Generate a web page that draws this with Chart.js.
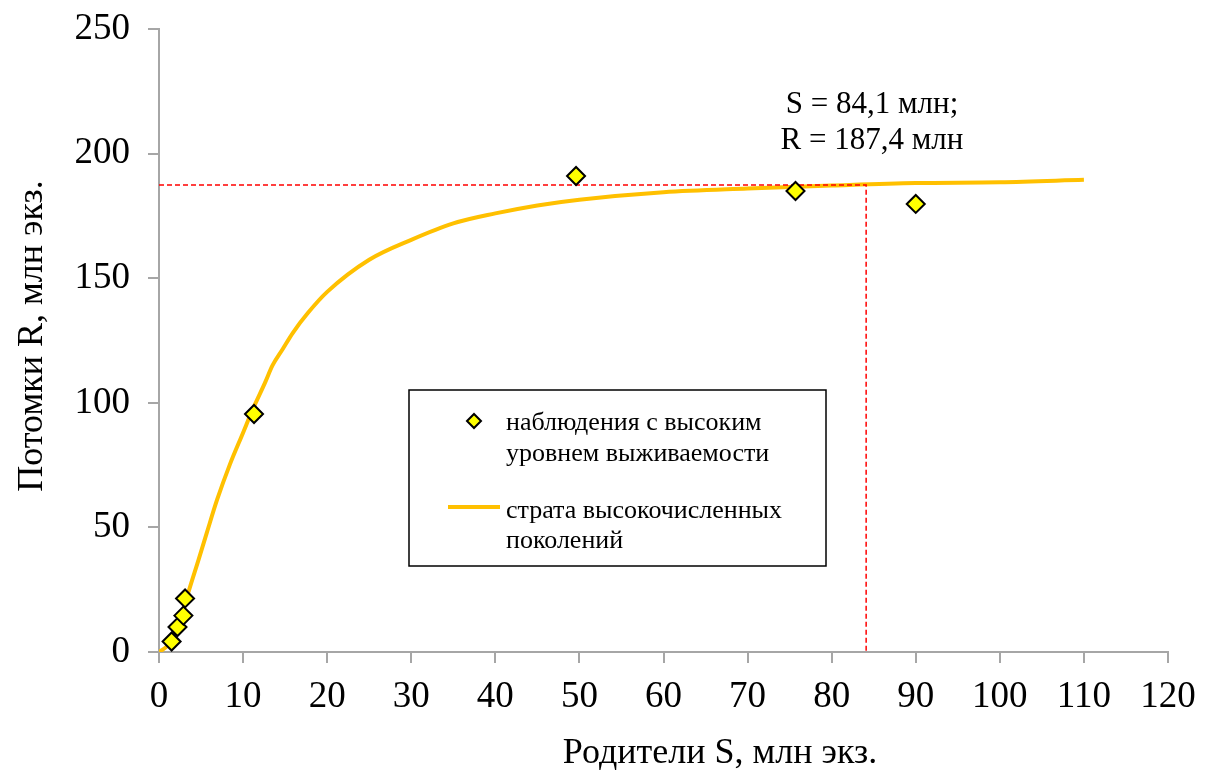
<!DOCTYPE html>
<html>
<head>
<meta charset="utf-8">
<script src="https://cdn.jsdelivr.net/npm/chart.js@4.4.1/dist/chart.umd.min.js"></script>
<style>
  html, body { margin: 0; padding: 0; background: #fff; }
  #wrap { width: 1206px; height: 773px; }
</style>
</head>
<body>
<div id="wrap"><canvas id="srChart" width="1206" height="773"></canvas></div>
<script>
// observations (parents S, recruits R), mln
const obsS = [1.5, 2.2, 2.9, 3.1, 11.3, 49.6, 75.7, 90.0];
const obsR = [4.2, 10.0, 14.6, 21.5, 95.5, 191.0, 185.0, 179.8];

// fitted curve for the high-abundance stratum
const curveS = [0, 1, 2, 3, 3.5, 4.7, 5.7, 6.9, 8.4, 10, 11.1, 12.6, 13.5, 14.7, 15.9, 17.7, 20, 25, 30, 35, 40, 45, 50, 60, 70, 80, 90, 100, 110];
const curveR = [0, 2.5, 8, 18, 24, 37, 48, 61, 75, 88, 97, 108, 115, 121.5, 128, 136, 144.5, 157.4, 165.4, 172, 176, 179.2, 181.5, 184.5, 186, 187.2, 188.2, 188.5, 189.5];

// equilibrium point
const eqS = 84.1;
const eqR = 187.4;

const xTicks = [0, 10, 20, 30, 40, 50, 60, 70, 80, 90, 100, 110, 120];
const yTicks = [0, 50, 100, 150, 200, 250];

const legendLabels = [
  ['наблюдения с высоким', 'уровнем выживаемости'],
  ['страта высокочисленных', 'поколений']
];
const xTitle = 'Родители S, млн экз.';
const yTitle = 'Потомки R, млн экз.';
const noteLines = ['S = 84,1 млн;', 'R = 187,4 млн'];

const SERIF = '"Liberation Serif", "Times New Roman", serif';
const GOLD = '#FFC000';
const AXIS = '#a6a6a6';

const toPts = (xs, ys) => xs.map((x, i) => ({ x, y: ys[i] }));

// texts, legend box and axis titles
const extras = {
  id: 'extras',
  afterDraw(chart) {
    const ctx = chart.ctx;
    ctx.save();
    ctx.fillStyle = '#000';
    ctx.textBaseline = 'alphabetic';

    // annotation above the equilibrium point
    ctx.font = '31px ' + SERIF;
    ctx.textAlign = 'center';
    ctx.fillText(noteLines[0], 872, 113);
    ctx.fillText(noteLines[1], 872, 149);

    // axis titles
    ctx.font = '36px ' + SERIF;
    ctx.fillText(xTitle, 720, 763);
    ctx.save();
    ctx.translate(42, 336);
    ctx.rotate(-Math.PI / 2);
    ctx.fillText(yTitle, 0, 0);
    ctx.restore();

    // legend
    ctx.lineWidth = 1.5;
    ctx.strokeStyle = '#000';
    ctx.strokeRect(409, 390, 417, 176);

    ctx.beginPath();
    ctx.moveTo(474 - 7, 421);
    ctx.lineTo(474, 421 - 7);
    ctx.lineTo(474 + 7, 421);
    ctx.lineTo(474, 421 + 7);
    ctx.closePath();
    ctx.fillStyle = '#FFFF00';
    ctx.fill();
    ctx.lineWidth = 2;
    ctx.stroke();

    ctx.beginPath();
    ctx.moveTo(448, 507);
    ctx.lineTo(500, 507);
    ctx.strokeStyle = GOLD;
    ctx.lineWidth = 4;
    ctx.stroke();

    ctx.fillStyle = '#000';
    ctx.textAlign = 'left';
    ctx.font = '26px ' + SERIF;
    ctx.fillText(legendLabels[0][0], 506, 430);
    ctx.fillText(legendLabels[0][1], 506, 461);
    ctx.fillText(legendLabels[1][0], 506, 518);
    ctx.fillText(legendLabels[1][1], 506, 548);
    ctx.restore();
  }
};

window.addEventListener('load', () => {
  const ctx = document.getElementById('srChart').getContext('2d');
  new Chart(ctx, {
    type: 'scatter',
    data: {
      datasets: [
        {
          label: 'наблюдения с высоким уровнем выживаемости',
          data: toPts(obsS, obsR),
          pointStyle: 'rectRot',
          pointRadius: 9,
          pointBackgroundColor: '#FFFF00',
          pointBorderColor: '#000',
          pointBorderWidth: 2,
          order: 0
        },
        {
          type: 'line',
          label: 'equilibrium',
          data: [{ x: 0, y: eqR }, { x: eqS, y: eqR }, { x: eqS, y: 0 }],
          borderColor: '#FF0000',
          borderWidth: 1.5,
          borderDash: [5, 3],
          pointRadius: 0,
          tension: 0,
          order: 1
        },
        {
          type: 'line',
          label: 'страта высокочисленных поколений',
          data: toPts(curveS, curveR),
          borderColor: GOLD,
          borderWidth: 4,
          pointRadius: 0,
          cubicInterpolationMode: 'monotone',
          order: 2
        }
      ]
    },
    options: {
      responsive: false,
      animation: false,
      layout: { padding: { top: 29, right: 38, left: 0, bottom: 0 } },
      plugins: { legend: { display: false }, tooltip: { enabled: false } },
      scales: {
        x: {
          type: 'linear',
          min: 0, max: 120,
          afterBuildTicks: s => { s.ticks = xTicks.map(v => ({ value: v })); },
          afterFit: s => { s.height = 121; s.paddingLeft = 0; s.paddingRight = 0; },
          grid: { drawOnChartArea: false, drawTicks: true, tickLength: 11, color: AXIS, lineWidth: 2 },
          border: { color: AXIS, width: 2 },
          ticks: { color: '#000', font: { family: SERIF, size: 37 }, padding: 12, maxRotation: 0 }
        },
        y: {
          type: 'linear',
          min: 0, max: 250,
          afterBuildTicks: s => { s.ticks = yTicks.map(v => ({ value: v })); },
          afterFit: s => { s.width = 159; s.paddingTop = 0; s.paddingBottom = 0; },
          grid: { drawOnChartArea: false, drawTicks: true, tickLength: 11, color: AXIS, lineWidth: 2 },
          border: { color: AXIS, width: 2 },
          ticks: { color: '#000', font: { family: SERIF, size: 37 }, padding: 18 }
        }
      }
    },
    plugins: [extras]
  });
});
</script>
</body>
</html>
